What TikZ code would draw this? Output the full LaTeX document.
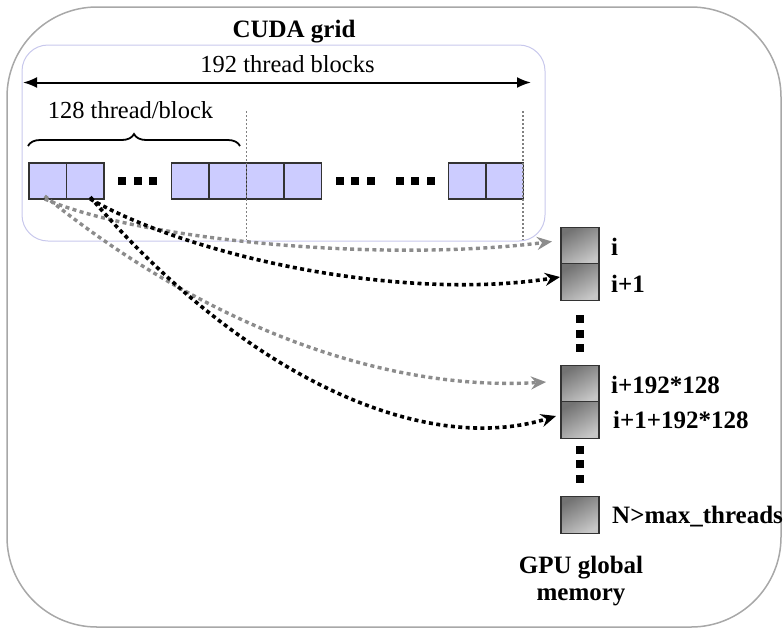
\documentclass[tikz,border=0pt]{standalone}
\usepackage{fontspec}
\setmainfont{Liberation Serif}
\usetikzlibrary{arrows.meta,decorations.pathreplacing}
\definecolor{lav}{HTML}{CCCCFF}
\definecolor{lavline}{HTML}{C8C8EC}
\definecolor{outerline}{HTML}{A8A8A8}
\definecolor{cellline}{HTML}{333333}
\definecolor{arrgray}{HTML}{8C8C8C}
\definecolor{divgray}{HTML}{808080}
\begin{document}
\begin{tikzpicture}[x=1pt,y=-1pt,
  lbl/.style={font=\fontsize{24.5}{27}\selectfont, inner sep=0pt},
  blbl/.style={font=\fontsize{25}{27}\selectfont\bfseries, inner sep=0pt},
  thcell/.style={draw=cellline, line width=1.3pt, fill=lav, minimum width=37.5pt, minimum height=36pt, inner sep=0pt, outer sep=0pt},
  memcell/.style={draw=cellline, line width=1.3pt, top color=black!55, bottom color=black!22, shading angle=30, minimum width=38pt, minimum height=36.5pt, inner sep=0pt, outer sep=0pt},
  sq/.style={fill=black, minimum size=8pt, inner sep=0pt, outer sep=0pt},
  vdot/.style={draw=divgray, line width=1.8pt, dash pattern=on 1.8pt off 2.2pt},
  grayarr/.style={draw=arrgray, line width=3.4pt, dash pattern=on 4pt off 3.4pt, -{Stealth[length=15pt, width=13pt, inset=5pt]}},
  blackarr/.style={draw=black, line width=3.6pt, dash pattern=on 4pt off 3.4pt, -{Stealth[length=15pt, width=13pt, inset=5pt]}}
]
\useasboundingbox (0,0) rectangle (784,630);
% outer box
\draw[outerline, line width=1.5pt, rounded corners=90pt] (7,7) rectangle (781,627);
% inner box
\draw[lavline, line width=1pt, rounded corners=26pt] (22,45) rectangle (545,241);

% titles
\node[blbl, anchor=base] (title) at (294,37) {CUDA grid};
\node[lbl, anchor=base] (tb) at (287.5,72) {192 thread blocks};
\node[lbl, anchor=base] (tpb) at (130.5,118) {128 thread/block};

% span arrow
\coordinate (aL) at (23,82.5);
\coordinate (aR) at (531,82.5);
\draw[line width=2pt, {Latex[length=14pt,width=11pt]}-{Latex[length=14pt,width=11pt]}] (aL) -- (aR);

% brace
\coordinate (bL) at (28,146);
\coordinate (bR) at (240,146);
\draw[line width=1.8pt, decorate, decoration={brace, amplitude=12pt}] (bL) -- (bR);

% thread cells
\node[thcell] (c1) at (47.75,181) {};
\node[thcell] (c2) at (85.25,181) {};
\node[thcell] (c3) at (190.25,181) {};
\node[thcell] (c4) at (227.75,181) {};
\node[thcell] (c5) at (265.25,181) {};
\node[thcell] (c6) at (302.75,181) {};
\node[thcell] (c7) at (467.25,181) {};
\node[thcell] (c8) at (504.75,181) {};

% horizontal dot groups
\node[sq] (d1) at (122,181) {};
\node[sq] (d2) at (137.5,181) {};
\node[sq] (d3) at (153,181) {};
\node[sq] (d4) at (339.5,181) {};
\node[sq] (d5) at (354.5,181) {};
\node[sq] (d6) at (370.5,181) {};
\node[sq] (d7) at (399.5,181) {};
\node[sq] (d8) at (414.5,181) {};
\node[sq] (d9) at (431,181) {};

% vertical dotted dividers
\coordinate (v1t) at (246.5,111);
\coordinate (v1b) at (246.5,240);
\coordinate (v2t) at (523,111);
\coordinate (v2b) at (523,240);
\draw[vdot] (v1t) -- (v1b);
\draw[vdot] (v2t) -- (v2b);

% memory cells
\node[memcell] (m1) at (580,245.5) {};
\node[memcell] (m2) at (580,282) {};
\node[memcell] (m3) at (580,384) {};
\node[memcell] (m4) at (580,420) {};
\node[memcell] (m5) at (580,515) {};

% vertical dots
\node[sq] (e1) at (580,319) {};
\node[sq] (e2) at (580,333.5) {};
\node[sq] (e3) at (580,348) {};
\node[sq] (e4) at (580,449.5) {};
\node[sq] (e5) at (580,464) {};
\node[sq] (e6) at (580,479) {};

% memory labels
\node[blbl, anchor=base west] (l1) at (611,255) {i};
\node[blbl, anchor=base west] (l2) at (611,292) {i+1};
\node[blbl, anchor=base west] (l3) at (611,393) {i+192*128};
\node[blbl, anchor=base west] (l4) at (613,428) {i+1+192*128};
\node[blbl, anchor=base west] (l5) at (612,523) {N>max\_threads};
\node[blbl, anchor=north, align=center] (gm) at (581,556) {GPU global\\memory};

% mapping arrows
\draw[grayarr] ([xshift=-3pt]c1.south) .. controls (140,240) and (380,263) .. ([xshift=-9pt,yshift=4pt]m1.west);
\draw[grayarr] ([xshift=-3pt,yshift=3pt]c1.south) .. controls (200,322) and (380,392) .. ([xshift=-15pt,yshift=2pt]m3.west);
\draw[blackarr] ([xshift=5pt]c2.south) .. controls (190,256) and (400,302) .. ([xshift=-1pt,yshift=5pt]m2.west);
\draw[blackarr] ([xshift=5pt,yshift=2pt]c2.south) .. controls (240,372) and (420,458) .. ([xshift=-5pt,yshift=4pt]m4.west);
\end{tikzpicture}
\end{document}
